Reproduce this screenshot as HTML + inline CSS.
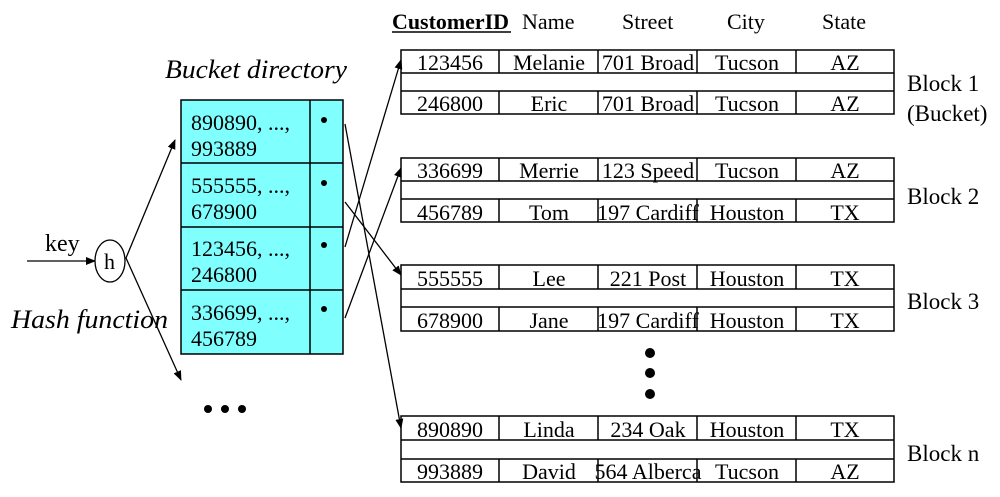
<!DOCTYPE html>
<html><head><style>
html,body{margin:0;padding:0;background:#fff;}
svg{display:block;font-family:"Liberation Serif",serif;}
</style></head><body>
<svg width="1000" height="497" viewBox="0 0 1000 497" xmlns="http://www.w3.org/2000/svg">
<defs>
<marker id="a" markerWidth="10" markerHeight="8" refX="9" refY="4" orient="auto" markerUnits="userSpaceOnUse">
<path d="M0,0 L10,4 L0,8 z" fill="#000"/></marker>
</defs>
<g font-size="22" fill="#000">
<text x="392" y="29" font-weight="bold" textLength="117" lengthAdjust="spacingAndGlyphs">CustomerID</text>
<line x1="392" y1="32" x2="511" y2="32" stroke="#000" stroke-width="1.5"/>
<text x="522" y="29">Name</text>
<text x="622" y="29">Street</text>
<text x="727" y="29">City</text>
<text x="822" y="29">State</text>
</g>
<text x="165" y="78" font-size="26" font-style="italic" textLength="182" lengthAdjust="spacingAndGlyphs">Bucket directory</text>
<rect x="181" y="100" width="162" height="254" fill="#80FFFF" stroke="#000" stroke-width="1.5"/>
<line x1="310" y1="100" x2="310" y2="354" stroke="#000" stroke-width="1.5"/>
<g stroke="#000" stroke-width="1.5">
<line x1="181" y1="163" x2="343" y2="163"/>
<line x1="181" y1="227" x2="343" y2="227"/>
<line x1="181" y1="290" x2="343" y2="290"/>
</g>
<g font-size="22">
<text x="191" y="130">890890, ...,</text><text x="191" y="156">993889</text>
<text x="191" y="193">555555, ...,</text><text x="191" y="219">678900</text>
<text x="191" y="256">123456, ...,</text><text x="191" y="282">246800</text>
<text x="191" y="320">336699, ...,</text><text x="191" y="346">456789</text>
</g>
<g fill="#000">
<circle cx="324" cy="120" r="3"/><circle cx="324" cy="183" r="3"/>
<circle cx="324" cy="245" r="3"/><circle cx="324" cy="309" r="3"/>
</g>
<text x="45" y="251" font-size="24">key</text>
<line x1="27" y1="261" x2="95" y2="261" stroke="#000" stroke-width="1.3" marker-end="url(#a)"/>
<ellipse cx="110" cy="261" rx="15" ry="21" fill="#fff" stroke="#000" stroke-width="1.3"/>
<text x="104" y="269" font-size="22">h</text>
<line x1="126" y1="258" x2="175" y2="140" stroke="#000" stroke-width="1.3" marker-end="url(#a)"/>
<line x1="126" y1="258" x2="181" y2="380" stroke="#000" stroke-width="1.3" marker-end="url(#a)"/>
<text x="11" y="328" font-size="26" font-style="italic" textLength="157" lengthAdjust="spacingAndGlyphs">Hash function</text>
<g fill="#000"><circle cx="208" cy="409" r="4"/><circle cx="225" cy="409" r="4"/><circle cx="242" cy="409" r="4"/></g>
<g stroke="#000" stroke-width="1.3" fill="none">
<line x1="345" y1="124" x2="401" y2="428" marker-end="url(#a)"/>
<line x1="345" y1="202" x2="401" y2="275" marker-end="url(#a)"/>
<line x1="345" y1="247" x2="401" y2="60" marker-end="url(#a)"/>
<line x1="345" y1="318" x2="401" y2="168" marker-end="url(#a)"/>
</g>
<g stroke="#000" stroke-width="1.5" fill="none">
<rect x="401" y="50" width="493" height="64"/><line x1="401" y1="73" x2="894" y2="73"/><line x1="401" y1="91" x2="894" y2="91"/>
<rect x="401" y="158" width="493" height="64"/><line x1="401" y1="181" x2="894" y2="181"/><line x1="401" y1="199" x2="894" y2="199"/>
<rect x="401" y="265" width="493" height="66"/><line x1="401" y1="289" x2="894" y2="289"/><line x1="401" y1="307" x2="894" y2="307"/>
<rect x="401" y="416" width="493" height="66"/><line x1="401" y1="440" x2="894" y2="440"/><line x1="401" y1="459" x2="894" y2="459"/>
</g>
<g stroke="#000" stroke-width="1.5">
<path d="M499 50V73M598 50V73M697 50V73M796 50V73M499 91V114M598 91V114M697 91V114M796 91V114"/>
<path d="M499 158V181M598 158V181M697 158V181M796 158V181M499 199V222M598 199V222M697 199V222M796 199V222"/>
<path d="M499 265V289M598 265V289M697 265V289M796 265V289M499 307V331M598 307V331M697 307V331M796 307V331"/>
<path d="M499 416V440M598 416V440M697 416V440M796 416V440M499 459V482M598 459V482M697 459V482M796 459V482"/>
</g>
<g font-size="22" text-anchor="middle">
<text x="450" y="70">123456</text><text x="549" y="70">Melanie</text><text x="648" y="70">701 Broad</text><text x="747" y="70">Tucson</text><text x="845" y="70">AZ</text>
<text x="450" y="111">246800</text><text x="549" y="111">Eric</text><text x="648" y="111">701 Broad</text><text x="747" y="111">Tucson</text><text x="845" y="111">AZ</text>
<text x="450" y="178">336699</text><text x="549" y="178">Merrie</text><text x="648" y="178">123 Speed</text><text x="747" y="178">Tucson</text><text x="845" y="178">AZ</text>
<text x="450" y="220">456789</text><text x="549" y="220">Tom</text><text x="648" y="220">197 Cardiff</text><text x="747" y="220">Houston</text><text x="845" y="220">TX</text>
<text x="450" y="286">555555</text><text x="549" y="286">Lee</text><text x="648" y="286">221 Post</text><text x="747" y="286">Houston</text><text x="845" y="286">TX</text>
<text x="450" y="328">678900</text><text x="549" y="328">Jane</text><text x="648" y="328">197 Cardiff</text><text x="747" y="328">Houston</text><text x="845" y="328">TX</text>
<text x="450" y="437">890890</text><text x="549" y="437">Linda</text><text x="648" y="437">234 Oak</text><text x="747" y="437">Houston</text><text x="845" y="437">TX</text>
<text x="450" y="479">993889</text><text x="549" y="479">David</text><text x="648" y="479">564 Alberca</text><text x="747" y="479">Tucson</text><text x="845" y="479">AZ</text>
</g>
<g fill="#000"><circle cx="650" cy="353" r="5"/><circle cx="650" cy="373" r="5"/><circle cx="650" cy="394" r="5"/></g>
<g font-size="23">
<text x="907" y="91">Block 1</text><text x="907" y="121">(Bucket)</text>
<text x="907" y="204">Block 2</text>
<text x="907" y="309">Block 3</text>
<text x="907" y="461">Block n</text>
</g>
</svg>
</body></html>
